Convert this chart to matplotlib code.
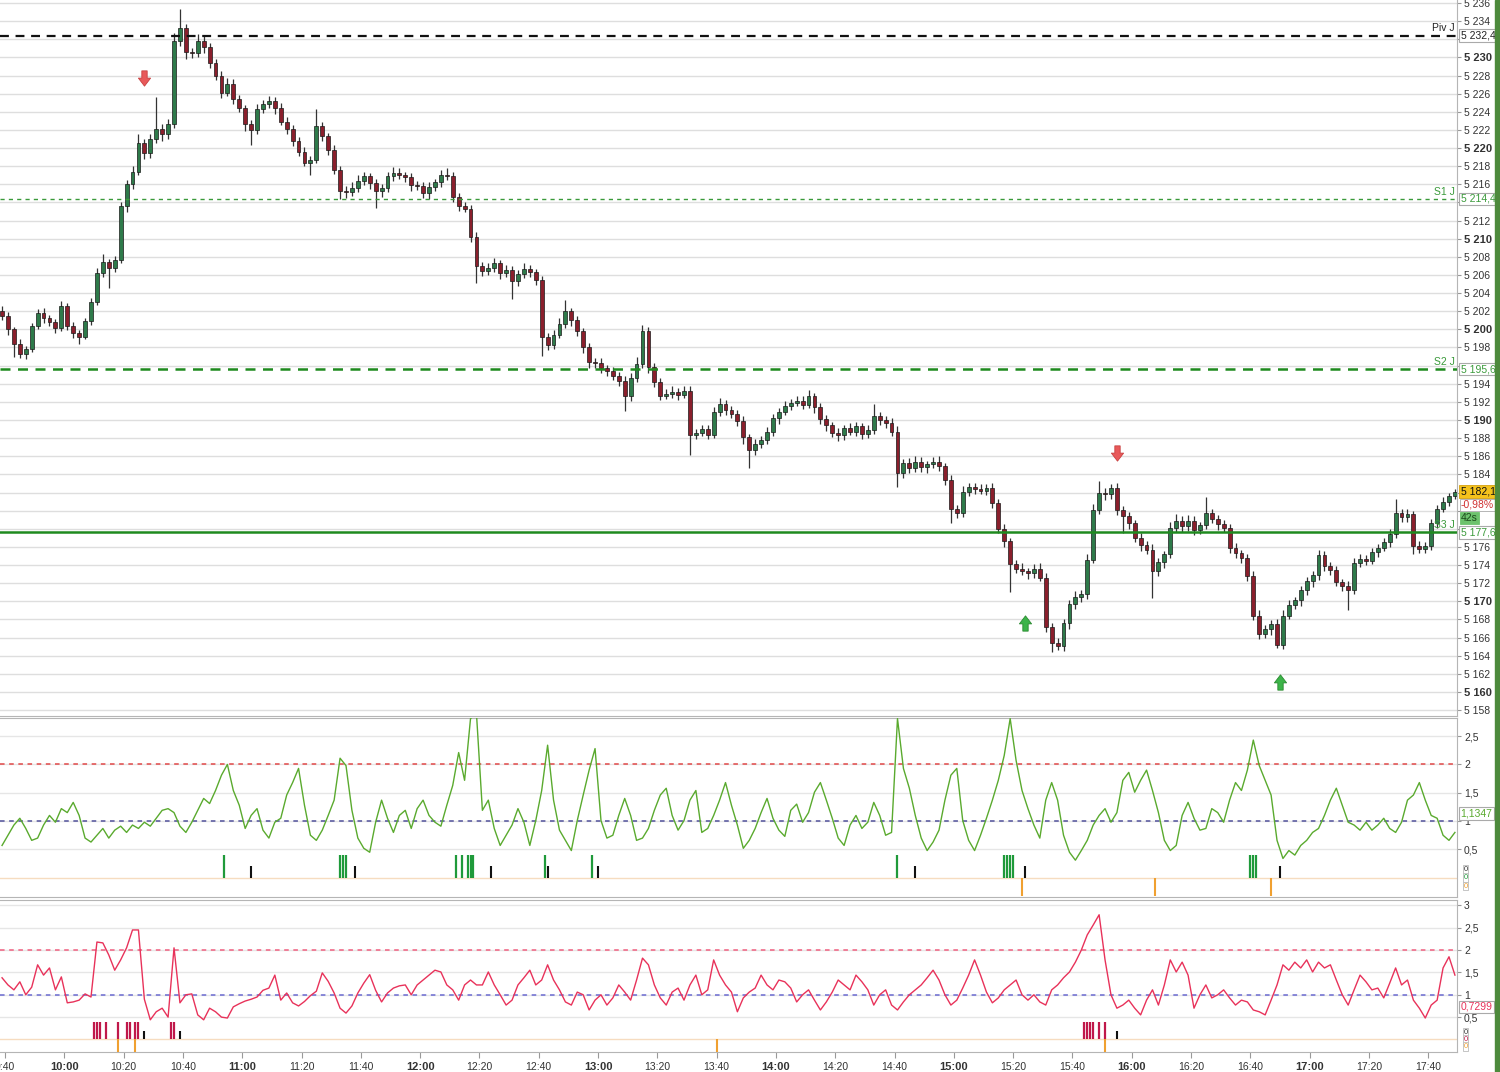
import numpy as np
import matplotlib.pyplot as plt
from matplotlib.path import Path
from matplotlib.patches import Rectangle
from matplotlib.transforms import blended_transform_factory

plt.rcParams['font.family'] = ['Liberation Sans', 'DejaVu Sans']

# 2-minute candles, first one at 9:39
first_open = 5202.0
closes = [
    5201.5, 5200.0, 5198.4, 5197.3, 5197.8, 5200.4, 5201.8, 5201.2, 5200.8, 5200.2,
    5202.6, 5200.4, 5199.6, 5199.2, 5200.9, 5203.0, 5206.2, 5207.4, 5206.8, 5207.6,
    5213.6, 5216.0, 5217.4, 5220.6, 5219.4, 5221.0, 5222.1, 5221.5, 5222.6, 5231.8,
    5233.2, 5230.6, 5230.5, 5231.8, 5231.2, 5229.4, 5228.0, 5226.1, 5227.1, 5225.4,
    5224.4, 5222.6, 5222.0, 5224.3, 5224.9, 5225.2, 5224.4, 5222.9, 5222.1, 5220.8,
    5219.6, 5218.4, 5218.7, 5222.4, 5221.3, 5219.8, 5217.6, 5215.3, 5215.1, 5215.6,
    5216.4, 5216.9, 5216.1, 5215.3, 5215.6, 5216.9, 5217.3, 5217.0, 5216.8, 5215.9,
    5215.8, 5215.0, 5215.7, 5216.2, 5217.0, 5216.9, 5214.6, 5213.6, 5213.3, 5210.2,
    5207.0, 5206.4, 5206.8, 5207.3, 5206.2, 5206.6, 5205.3, 5206.1, 5206.7, 5206.3,
    5205.4, 5199.2, 5198.3, 5199.4, 5200.6, 5202.0, 5201.0, 5199.8, 5198.0, 5196.4,
    5196.3, 5195.7, 5195.4, 5194.9, 5194.3, 5192.6, 5194.6, 5196.2, 5199.8, 5195.8,
    5194.2, 5192.7, 5192.9, 5193.1, 5192.8, 5193.2, 5188.4, 5188.6, 5189.0, 5188.4,
    5190.9, 5191.8, 5191.1, 5190.7, 5189.9, 5188.1, 5186.7, 5187.4, 5187.8, 5188.7,
    5190.2, 5190.9, 5191.6, 5191.9, 5192.1, 5191.7, 5192.6, 5191.4, 5190.1, 5189.4,
    5188.6, 5188.3, 5189.1, 5188.7, 5189.3, 5188.5, 5188.9, 5190.4, 5190.0, 5189.7,
    5188.7, 5184.1, 5185.3, 5184.7, 5185.4, 5184.8, 5185.1, 5185.4, 5184.9, 5183.4,
    5180.2, 5179.7, 5182.1, 5182.6, 5182.4, 5182.2, 5182.5, 5180.9, 5178.0, 5176.6,
    5174.1, 5173.6, 5173.3, 5173.1, 5173.6, 5172.6, 5167.2, 5165.4, 5165.1, 5167.6,
    5169.7, 5170.5, 5170.8, 5174.6, 5180.1, 5182.0, 5181.8, 5182.5, 5180.1, 5179.4,
    5178.6, 5177.0, 5176.2, 5175.7, 5173.3, 5174.3, 5175.2, 5178.1, 5178.9, 5178.3,
    5178.9, 5177.9, 5178.4, 5179.7, 5179.1, 5178.5, 5178.1, 5175.9, 5175.3, 5174.8,
    5172.8, 5168.4, 5166.4, 5166.9, 5167.5, 5165.2, 5168.4, 5169.6, 5170.1, 5171.2,
    5172.2, 5172.9, 5175.1, 5173.9, 5173.4, 5172.1, 5171.7, 5171.3, 5174.2, 5174.7,
    5174.5, 5175.4, 5175.9, 5176.5, 5177.4, 5179.7, 5179.3, 5179.6, 5176.1, 5175.8,
    5176.1, 5178.6, 5180.2, 5181.0, 5181.6, 5182.1,
]
upper_wick = [
    0.6, 0.4, 0.3, 0.5, 0.4, 0.3, 0.5, 0.6, 0.4, 0.3,
    0.5, 0.3, 0.4, 0.3, 0.4, 0.5, 0.6, 0.9, 0.4, 0.5,
    0.4, 0.5, 0.6, 0.9, 0.4, 0.6, 3.5, 0.5, 0.6, 0.9,
    2.1, 0.5, 0.4, 0.8, 0.6, 0.4, 0.4, 0.5, 0.6, 0.5,
    0.5, 0.4, 0.5, 0.6, 0.4, 0.5, 0.4, 0.6, 0.5, 0.4,
    0.4, 0.5, 0.4, 1.9, 0.5, 0.4, 0.5, 0.4, 0.5, 0.6,
    0.6, 0.5, 0.4, 0.5, 0.4, 0.5, 0.6, 0.5, 0.4, 0.5,
    0.5, 0.4, 0.5, 0.4, 0.6, 0.8, 0.5, 0.4, 0.5, 0.4,
    0.5, 0.4, 0.5, 0.6, 0.4, 0.5, 0.4, 0.5, 0.6, 0.4,
    0.4, 0.5, 0.4, 0.5, 0.6, 1.2, 0.4, 0.5, 0.4, 0.5,
    0.4, 0.5, 0.4, 0.5, 0.4, 0.5, 0.6, 0.7, 0.7, 0.5,
    0.5, 0.4, 0.5, 0.6, 0.4, 0.5, 0.6, 0.4, 0.5, 0.4,
    0.5, 0.6, 0.4, 0.5, 0.4, 0.5, 0.4, 0.5, 0.4, 0.5,
    0.5, 0.4, 0.5, 0.4, 0.6, 0.5, 0.7, 0.4, 0.5, 0.4,
    0.4, 0.5, 0.4, 0.6, 0.5, 0.4, 0.5, 1.4, 0.5, 0.4,
    0.5, 0.6, 0.4, 0.5, 0.6, 0.5, 0.4, 0.5, 0.6, 0.4,
    0.5, 0.4, 0.6, 0.5, 0.4, 0.5, 0.4, 0.5, 0.4, 0.5,
    0.4, 0.5, 0.6, 0.4, 0.5, 0.6, 0.5, 0.4, 0.6, 0.5,
    0.5, 0.6, 0.5, 0.6, 0.6, 1.3, 0.5, 0.4, 0.5, 0.4,
    0.5, 0.4, 0.5, 0.4, 0.6, 0.5, 0.4, 0.6, 0.7, 0.5,
    0.6, 0.5, 0.4, 1.8, 0.5, 0.4, 0.5, 0.4, 0.5, 0.4,
    0.4, 0.5, 0.6, 0.5, 0.4, 0.5, 0.6, 0.5, 0.4, 0.5,
    0.5, 0.4, 0.6, 0.5, 0.4, 0.5, 0.4, 0.5, 0.6, 0.5,
    0.4, 0.5, 0.4, 0.5, 0.6, 1.6, 0.5, 0.6, 0.4, 0.5,
    0.4, 0.5, 0.4, 0.5, 0.4, 0.3,
]
lower_wick = [
    0.5, 0.6, 1.4, 0.5, 0.6, 0.3, 0.4, 0.5, 0.4, 0.6,
    0.4, 0.5, 0.6, 0.8, 0.3, 0.4, 0.3, 0.4, 2.2, 0.5,
    0.3, 0.6, 0.5, 0.4, 0.6, 0.5, 0.4, 0.7, 0.5, 0.4,
    0.5, 0.8, 0.6, 0.5, 0.7, 0.6, 0.5, 0.6, 0.4, 0.5,
    0.4, 0.7, 1.7, 0.5, 0.4, 0.5, 0.6, 0.4, 0.5, 0.6,
    0.5, 0.4, 1.4, 0.4, 0.5, 0.6, 0.5, 0.9, 0.6, 0.4,
    0.4, 0.5, 0.6, 1.9, 0.7, 0.4, 0.5, 0.4, 0.5, 0.6,
    0.4, 0.5, 0.6, 0.4, 0.5, 0.4, 0.6, 0.5, 0.4, 0.6,
    1.9, 0.5, 0.4, 0.5, 0.6, 0.4, 1.9, 0.5, 0.4, 0.5,
    0.5, 2.1, 0.6, 0.5, 0.4, 0.5, 0.6, 0.5, 0.6, 0.7,
    0.6, 0.5, 0.6, 0.5, 0.6, 1.6, 0.5, 0.4, 0.5, 0.6,
    0.6, 0.5, 0.4, 0.5, 0.6, 0.4, 2.3, 0.5, 0.4, 0.5,
    0.4, 0.5, 0.6, 0.5, 0.6, 0.7, 2.0, 0.6, 0.5, 0.4,
    0.5, 0.6, 0.4, 0.5, 0.4, 0.5, 0.4, 0.6, 0.5, 0.6,
    0.5, 0.6, 0.5, 0.4, 0.5, 0.6, 0.5, 0.4, 0.5, 0.6,
    0.5, 1.5, 0.5, 0.6, 0.4, 0.5, 0.6, 0.4, 0.5, 0.6,
    1.6, 0.5, 0.4, 0.5, 0.6, 0.4, 0.5, 0.6, 0.5, 0.6,
    3.1, 0.5, 0.4, 0.6, 0.5, 0.4, 0.6, 1.0, 0.5, 0.6,
    0.6, 0.5, 0.6, 0.5, 0.4, 0.5, 0.6, 0.5, 0.6, 1.9,
    0.6, 0.5, 0.6, 0.5, 2.9, 0.5, 0.6, 0.4, 0.5, 0.6,
    0.5, 0.6, 0.5, 0.4, 0.5, 0.6, 0.5, 0.6, 0.5, 0.6,
    0.6, 0.5, 0.6, 0.5, 0.6, 0.4, 0.5, 0.4, 0.5, 0.6,
    0.5, 0.6, 0.5, 0.6, 0.5, 0.4, 0.6, 2.3, 0.5, 0.4,
    0.5, 0.4, 0.5, 0.4, 0.5, 0.4, 0.5, 0.6, 0.9, 0.5,
    0.5, 0.4, 0.5, 0.4, 0.5, 0.3,
]

# indicator 1 (green line), same 2-minute steps
ind1 = [
    0.57, 0.75, 0.93, 1.05, 0.87, 0.66, 0.70, 0.93, 1.10, 0.98,
    1.22, 1.15, 1.33, 1.10, 0.70, 0.63, 0.75, 0.87, 0.70, 0.84,
    0.91, 0.80, 0.93, 0.87, 0.98, 0.91, 1.05, 1.19, 1.22, 1.15,
    0.91, 0.80, 0.98, 1.19, 1.40, 1.31, 1.54, 1.81, 2.00, 1.54,
    1.28, 0.87, 1.10, 1.22, 0.84, 0.70, 0.98, 1.05, 1.46, 1.68,
    1.93, 1.28, 0.75, 0.66, 0.84, 1.10, 1.37, 2.11, 1.98, 1.19,
    0.70, 0.52, 0.45, 0.98, 1.37, 1.05, 0.80, 1.10, 1.19, 0.87,
    1.22, 1.37, 1.10, 0.98, 0.91, 1.28, 1.63, 2.21, 1.72, 2.81,
    2.90, 1.19, 1.37, 0.87, 0.57, 0.75, 0.93, 1.22, 0.98, 0.57,
    1.01, 1.54, 2.34, 1.37, 0.84, 0.66, 0.48, 1.01, 1.46, 1.90,
    2.28, 1.01, 0.70, 0.75, 1.10, 1.40, 1.10, 0.66, 0.70, 0.87,
    1.19, 1.46, 1.58, 1.10, 0.84, 1.01, 1.37, 1.54, 0.80, 0.87,
    1.10, 1.37, 1.68, 1.28, 0.93, 0.52, 0.66, 0.87, 1.15, 1.40,
    1.05, 0.84, 0.73, 1.19, 1.30, 0.98, 1.15, 1.51, 1.68, 1.37,
    1.05, 0.70, 0.57, 0.93, 1.10, 0.87, 0.98, 1.33, 1.10, 0.75,
    0.80, 2.81, 1.93, 1.58, 1.10, 0.70, 0.48, 0.63, 0.84, 1.37,
    1.81, 1.93, 1.01, 0.66, 0.48, 0.75, 1.05, 1.37, 1.72, 2.16,
    2.81, 2.07, 1.54, 1.22, 0.93, 0.70, 1.37, 1.68, 1.37, 0.75,
    0.45, 0.31, 0.48, 0.66, 0.93, 1.10, 1.22, 0.98, 1.15, 1.72,
    1.86, 1.51, 1.72, 1.90, 1.54, 1.15, 0.66, 0.48, 0.57, 1.10,
    1.33, 1.05, 0.84, 0.87, 1.22, 1.15, 0.98, 1.37, 1.68, 1.54,
    1.90, 2.43, 1.98, 1.72, 1.46, 0.66, 0.34, 0.48, 0.40, 0.57,
    0.66, 0.80, 0.87, 1.10, 1.37, 1.58, 1.28, 0.98, 0.93, 0.84,
    0.98, 0.84, 0.93, 1.05, 0.87, 0.80, 0.98, 1.37, 1.46, 1.68,
    1.37, 1.10, 1.05, 0.75, 0.66, 0.80,
]
# indicator 2 (red line)
ind2 = [
    1.38, 1.22, 1.11, 1.29, 1.00, 1.17, 1.67, 1.44, 1.60, 1.11,
    1.40, 0.82, 0.84, 0.88, 1.02, 0.95, 2.18, 2.16, 1.89, 1.55,
    1.78, 2.05, 2.45, 2.45, 0.90, 0.44, 0.62, 0.70, 0.50, 2.05,
    0.82, 1.00, 1.02, 0.55, 0.44, 0.70, 0.62, 0.50, 0.48, 0.73,
    0.80, 0.86, 0.90, 0.95, 1.10, 1.15, 1.44, 0.88, 1.04, 0.82,
    0.75, 0.85, 0.98, 1.08, 1.49, 1.30, 1.04, 0.70, 0.59, 0.75,
    1.04, 1.26, 1.45, 1.10, 0.84, 1.04, 1.15, 1.20, 1.22, 1.00,
    1.22, 1.33, 1.44, 1.55, 1.51, 1.22, 1.11, 0.88, 1.22, 1.33,
    1.22, 1.22, 1.51, 1.22, 1.00, 0.77, 0.88, 1.22, 1.38, 1.55,
    1.22, 1.33, 1.67, 1.33, 1.11, 0.84, 0.77, 1.06, 1.00, 0.66,
    0.88, 1.00, 0.77, 0.93, 1.22, 1.06, 0.88, 1.33, 1.82, 1.67,
    1.22, 0.93, 0.77, 1.06, 1.15, 0.88, 1.22, 1.44, 1.00, 1.11,
    1.78, 1.44, 1.22, 1.06, 0.62, 0.93, 1.06, 1.15, 1.44, 1.22,
    1.11, 1.33, 1.29, 1.15, 0.84, 1.00, 1.11, 0.88, 0.66, 0.84,
    1.06, 1.33, 1.22, 1.11, 1.44, 1.29, 1.11, 0.77, 1.00, 1.11,
    0.77, 0.66, 0.84, 1.00, 1.11, 1.22, 1.38, 1.55, 1.33, 1.00,
    0.77, 0.88, 1.15, 1.44, 1.78, 1.44, 1.06, 0.82, 0.93, 1.11,
    1.22, 1.33, 1.00, 0.88, 1.00, 0.84, 0.77, 1.11, 1.22, 1.38,
    1.51, 1.73, 2.00, 2.34, 2.56, 2.79, 1.78, 1.00, 0.70, 0.77,
    0.88, 0.70, 0.55, 0.88, 1.11, 0.77, 1.22, 1.78, 1.51, 1.73,
    1.44, 0.70, 1.00, 1.22, 0.93, 1.00, 1.11, 0.93, 0.77, 0.88,
    0.84, 0.66, 0.62, 0.55, 0.88, 1.22, 1.67, 1.55, 1.73, 1.60,
    1.78, 1.51, 1.73, 1.60, 1.67, 1.33, 1.00, 0.77, 1.11, 1.44,
    1.29, 1.11, 1.15, 0.93, 1.26, 1.60, 1.22, 1.33, 0.88, 0.70,
    0.48, 0.77, 0.88, 1.60, 1.85, 1.44,
]

# pivot levels
level_names = ['Piv J', 'S1 J', 'S2 J', 'S3 J']
level_values = [5232.4, 5214.4, 5195.6, 5177.6]

# signal arrows on the price chart
arrows_down = [('10:27', 5227.7), ('15:55', 5186.4)]
arrows_up = [('15:24', 5167.6), ('16:50', 5161.1)]

# signal ticks in the indicator panels
ind1_green = ['10:54', '11:33', '11:34', '11:35', '12:12', '12:14', '12:16', '12:17',
              '12:18', '12:42', '12:58', '14:41', '15:17', '15:18', '15:19', '15:20',
              '16:40', '16:41', '16:42']
ind1_black = ['11:03', '11:38', '12:24', '12:43', '13:00', '14:47', '15:24', '16:50']
ind1_orange = ['15:23', '16:08', '16:47']
ind2_red = ['10:10', '10:11', '10:12', '10:14', '10:18', '10:21', '10:22', '10:24',
            '10:25', '10:36', '10:37', '15:44', '15:45', '15:46', '15:47', '15:49', '15:51']
ind2_black = ['10:27', '10:39', '15:55']
ind2_orange = ['10:18', '10:24', '13:40', '15:51']

last_price = '5 182,1'
change_pct = '-0,98%'
countdown = '42s'
ind1_last = '1,1347'
ind2_last = '0,7299'


def tmin(s):
    h, m = s.split(':')
    return int(h) * 60 + int(m) - (9 * 60 + 40)


def price_fmt(v, dec=0):
    s = f"{v:.{dec}f}".replace('.', ',')
    return s[0] + ' ' + s[1:]


n = len(closes)
x = -1 + 2 * np.arange(n)
c = np.array(closes)
o = np.r_[first_open, c[:-1]]
hi = np.maximum(o, c) + np.array(upper_wick)
lo = np.minimum(o, c) - np.array(lower_wick)

W, H = 1500, 1072
fig = plt.figure(figsize=(15, 10.72), dpi=100)
axw = 1457 / W
ax1 = fig.add_axes([0, 1 - 716 / H, axw, 716 / H])
ax2 = fig.add_axes([0, 1 - 897 / H, axw, (897 - 718) / H])
ax3 = fig.add_axes([0, 1 - 1052 / H, axw, (1052 - 900) / H])

xmin, xmax = -1.69, 489.7
for ax in (ax1, ax2, ax3):
    ax.set_xlim(xmin, xmax)
    ax.yaxis.tick_right()
    ax.spines['left'].set_visible(False)
    for s in ('top', 'bottom', 'right'):
        ax.spines[s].set_color('#b5b5b5')
    ax.tick_params(axis='y', labelsize=7.5, length=3, pad=2, colors='#333333',
                   direction='out')
    ax.tick_params(axis='y', color='#999999')

# ---- price panel ----
ax1.set_ylim(5157.35, 5236.33)
ax1.spines['top'].set_visible(False)
pticks = np.arange(5158, 5237, 2)
covered = {5232, 5214, 5196, 5182, 5180, 5178}   # hidden behind the value boxes
ax1.set_yticks(pticks, ['' if v in covered else price_fmt(v) for v in pticks])
for lbl, v in zip(ax1.get_yticklabels(), pticks):
    if v % 10 == 0:
        lbl.set_fontweight('bold')
        lbl.set_fontsize(8)
for v in pticks:
    ax1.axhline(v, color='#dedede', lw=1, zorder=0)
ax1.tick_params(axis='x', bottom=False, labelbottom=False)

up = c >= o
body_col = np.where(up, '#2e7a4a', '#8a1f2c')
ax1.vlines(x, lo, hi, color='#333333', lw=0.9, zorder=3)
body_h = np.maximum(np.abs(c - o), 0.08)
ax1.bar(x, body_h, bottom=np.minimum(o, c), width=1.3, color=body_col,
        edgecolor='#1a1a1a', linewidth=0.5, zorder=4)

lvl_style = [('#111111', (0, (4, 3)), 1.6, '#222222'),
             ('#3a9a3a', (0, (3, 3)), 1.0, '#3a9a3a'),
             ('#1f8a1f', (0, (4, 3)), 1.8, '#3a9a3a'),
             ('#1f8a1f', '-', 1.8, '#3a9a3a')]
tr1 = blended_transform_factory(ax1.transAxes, ax1.transData)
for name, val, (col, ls, lw, tc) in zip(level_names, level_values, lvl_style):
    ax1.axhline(val, color=col, ls=ls, lw=lw, zorder=5)
    ax1.text(0.9985, val + 0.25, name, transform=tr1, ha='right', va='bottom',
             fontsize=7.5, color=tc, zorder=8)
    ax1.text(1.0025, val, price_fmt(val, 1), transform=tr1, ha='left', va='center',
             fontsize=7.5, color=tc, zorder=10, clip_on=False,
             bbox=dict(boxstyle='square,pad=0.12', fc='white', ec='#aaaaaa', lw=0.8))

ax1.text(1.0025, 5182.1, last_price, transform=tr1, ha='left', va='center',
         fontsize=7.5, color='#111111', zorder=10, clip_on=False,
         bbox=dict(boxstyle='square,pad=0.12', fc='#f4c21c', ec='#d4a010', lw=0.6))
ax1.text(1.0025, 5180.65, change_pct, transform=tr1, ha='left', va='center',
         fontsize=7.5, color='#d03030', zorder=10, clip_on=False,
         bbox=dict(boxstyle='square,pad=0.1', fc='white', ec='#aaaaaa', lw=0.6))
ax1.text(1.0025, 5179.2, countdown, transform=tr1, ha='left', va='center',
         fontsize=7.5, color='#1a4a1a', zorder=10, clip_on=False,
         bbox=dict(boxstyle='square,pad=0.1', fc='#6cc26c', ec='#6cc26c', lw=0.6))

# block arrows
arrow_path = Path([(-0.35, 1.0), (0.35, 1.0), (0.35, 0.05), (0.8, 0.05), (0.0, -1.0),
                   (-0.8, 0.05), (-0.35, 0.05), (-0.35, 1.0)], closed=True)
arrow_up_path = Path(arrow_path.vertices * [1, -1], closed=True)
ax1.plot([tmin(t) for t, _ in arrows_down], [p for _, p in arrows_down], ls='none',
         marker=arrow_path, ms=11, mfc='#e8595a', mec='#c84040', mew=0.6, zorder=7)
ax1.plot([tmin(t) for t, _ in arrows_up], [p for _, p in arrows_up], ls='none',
         marker=arrow_up_path, ms=11, mfc='#3cb449', mec='#2a8a30', mew=0.6, zorder=7)


# ---- indicator panels ----
def indicator(ax, vals, line_col, ylim, yticks, hi_col, mid_col, last, last_col,
              up_ticks, up_col, black_ticks, orange_ticks):
    ax.set_ylim(*ylim)
    ax.set_yticks(yticks, [f"{v:g}".replace('.', ',') for v in yticks])
    for v in yticks:
        ax.axhline(v, color='#e6e6e6', lw=1, zorder=0)
    ax.axhline(0, color='#f6dcc0', lw=1, zorder=0)
    ax.axhline(2, color=hi_col, ls=(0, (3, 3)), lw=1.1, zorder=2)
    ax.axhline(1, color=mid_col, ls=(0, (3, 3)), lw=1.1, zorder=2)
    ax.plot(x, vals, color=line_col, lw=1.0, zorder=3)
    ax.vlines([tmin(t) for t in up_ticks], 0, 0.4, color=up_col, lw=1.6, zorder=4)
    ax.vlines([tmin(t) for t in black_ticks], 0, 0.2, color='#111111', lw=1.5, zorder=4)
    ax.vlines([tmin(t) for t in orange_ticks], 0, -0.33, color='#f0a030', lw=1.5, zorder=4)
    tr = blended_transform_factory(ax.transAxes, ax.transData)
    ax.text(1.0025, float(last.replace(',', '.')), last, transform=tr, ha='left',
            va='center', fontsize=7.5, color=last_col, zorder=10, clip_on=False,
            bbox=dict(boxstyle='square,pad=0.12', fc='white', ec='#aaaaaa', lw=0.8))
    for dy, col in zip((0.15, 0.0, -0.15), ('#333333', up_col, '#f0a030')):
        ax.text(1.0045, dy * (ylim[1] - ylim[0]) / 3.2, '0', transform=tr, ha='left',
                va='center', fontsize=5.5, color=col, zorder=10, clip_on=False,
                bbox=dict(boxstyle='square,pad=0.1', fc='white', ec='#bbbbbb', lw=0.6))


indicator(ax2, ind1, '#5aaa2e', (-0.34, 2.82), [0.5, 1, 1.5, 2, 2.5], '#e04848', '#50509a',
          ind1_last, '#5aaa2e', ind1_green, '#1f9a3a', ind1_black, ind1_orange)
ax2.tick_params(axis='x', bottom=False, labelbottom=False)

indicator(ax3, ind2, '#e8325a', (-0.28, 3.12), [0.5, 1, 1.5, 2, 2.5, 3], '#f06080',
          '#6a6ad0', ind2_last, '#e8325a', ind2_red, '#c0184a', ind2_black, ind2_orange)

xt = np.arange(0, 481, 20)
xlabels = []
for m in xt:
    hh, mm = divmod(9 * 60 + 40 + int(m), 60)
    xlabels.append(f"{hh}:{mm:02d}")
ax3.set_xticks(xt, xlabels)
ax3.tick_params(axis='x', labelsize=7.5, length=4, pad=3, colors='#333333', color='#999999')
for lbl in ax3.get_xticklabels():
    if lbl.get_text().endswith(':00'):
        lbl.set_fontweight('bold')
        lbl.set_fontsize(8)

fig.patches.append(Rectangle((1495 / W, 0), 5 / W, 1, transform=fig.transFigure,
                             color='#4d8a3c', zorder=10))

fig.savefig('out.png', dpi=100)
